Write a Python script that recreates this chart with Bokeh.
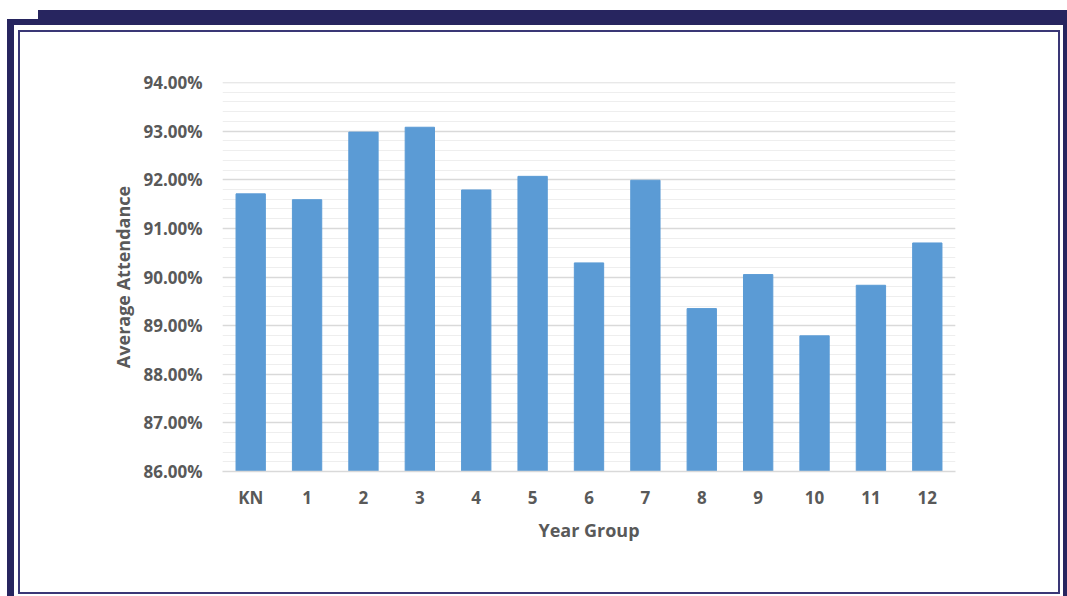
from bokeh.plotting import figure
from bokeh.models import NumeralTickFormatter, SingleIntervalTicker, ColumnDataSource, Range1d
from bokeh.embed import file_html
from bokeh.resources import INLINE

# Average attendance per year group
year_groups = ["KN", "1", "2", "3", "4", "5", "6", "7", "8", "9", "10", "11", "12"]
attendance = [0.9171, 0.9159, 0.9298, 0.9308, 0.9179, 0.9207, 0.9029,
              0.9199, 0.8935, 0.9005, 0.8879, 0.8983, 0.9070]

BAR = "#5b9bd5"
TEXT = "#595959"
NAVY = "#27255f"
FRAME = "#3a3776"
FONT = "Open Sans"

W, H = 1067, 596
left, right, top, bottom = 222, 955, 82, 471

p = figure(width=W, height=H, x_range=year_groups,
           y_range=Range1d(0.86, 0.94 + 1e-9),
           output_backend="svg", toolbar_location=None,
           min_border_left=left, min_border_right=W - right,
           min_border_top=top, min_border_bottom=H - bottom)
p.outline_line_color = None
p.background_fill_color = "white"
p.border_fill_alpha = 0

src = ColumnDataSource(dict(group=year_groups, value=attendance))
p.vbar(x="group", top="value", bottom=0.86, width=0.52, source=src,
       fill_color=BAR, line_color=BAR, line_width=1)

# y axis: percentages, major every 1%, four minor lines between
p.yaxis.ticker = SingleIntervalTicker(interval=0.01, num_minor_ticks=5)
p.yaxis.formatter = NumeralTickFormatter(format="0.00%")
p.yaxis.axis_line_color = None
p.yaxis.major_tick_line_color = None
p.yaxis.minor_tick_line_color = None
p.yaxis.major_label_standoff = 14
p.yaxis.axis_label = "Average Attendance"
p.yaxis.axis_label_standoff = 5

p.xaxis.axis_line_color = "#d9d9d9"
p.xaxis.axis_line_width = 1.5
p.xaxis.major_tick_line_color = None
p.xaxis.minor_tick_line_color = None
p.xaxis.major_label_standoff = 8
p.xaxis.axis_label = "Year Group"
p.xaxis.axis_label_standoff = 6

for ax in (p.xaxis, p.yaxis):
    ax.major_label_text_font = FONT
    ax.major_label_text_font_style = "bold"
    ax.major_label_text_font_size = "17px"
    ax.major_label_text_color = TEXT
    ax.axis_label_text_font = FONT
    ax.axis_label_text_font_style = "bold"
    ax.axis_label_text_font_size = "18px"
    ax.axis_label_text_color = TEXT

p.xgrid.grid_line_color = None
p.ygrid.grid_line_color = "#d9d9d9"
p.ygrid.grid_line_width = 1.5
p.ygrid.minor_grid_line_color = "#eeeeee"
p.ygrid.minor_grid_line_width = 1

# page frame behind the transparent border area: navy bars on the top,
# left and right edges and a thin inner border (x, y, w, h, colour)
frame_rects = [
    (38, 10, 1029, 15, NAVY),
    (7, 19, 31, 6, NAVY),
    (7, 19, 7, 577, NAVY),
    (1063, 10, 4, 586, NAVY),
    (18, 30, 1042, 2, FRAME),
    (18, 592, 1042, 2, FRAME),
    (18, 30, 2, 564, FRAME),
    (1058, 30, 2, 564, FRAME),
]
p.styles = {
    "background-color": "white",
    "background-repeat": "no-repeat",
    "background-image": ", ".join(f"linear-gradient({c}, {c})" for *_, c in frame_rects),
    "background-position": ", ".join(f"{x}px {y}px" for x, y, *_ in frame_rects),
    "background-size": ", ".join(f"{w}px {h}px" for _, _, w, h, _ in frame_rects),
}

open("out.html", "w").write(file_html(p, INLINE))
